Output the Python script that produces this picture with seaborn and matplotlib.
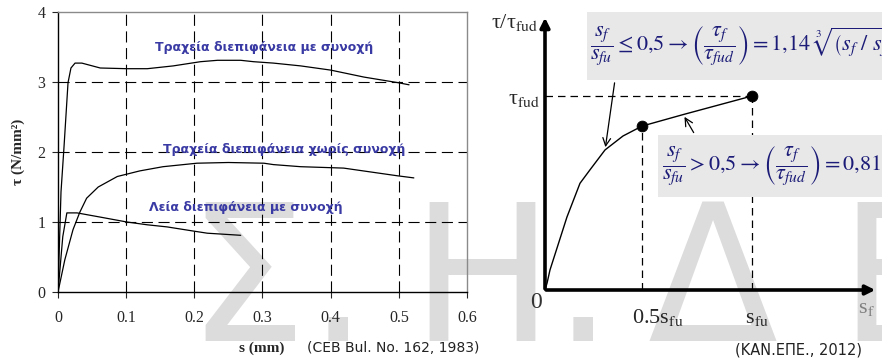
#diagrama tensao de aderencia - deslizamento (CEB) e modelo KAN.EPE
import numpy as np
import pandas as pd
import matplotlib
matplotlib.use('Agg')
import matplotlib.pyplot as plt
import seaborn as sns
from matplotlib.patches import Rectangle

# curvas CEB (s em mm, tau em N/mm2)
s_rugosa_coesao = [0, 0.0044, 0.0088, 0.0147, 0.019, 0.025, 0.035, 0.062, 0.101, 0.131, 0.169,
                   0.209, 0.234, 0.268, 0.287, 0.316, 0.356, 0.40, 0.449, 0.499, 0.515]
t_rugosa_coesao = [0, 1.43, 2.07, 2.99, 3.2, 3.27, 3.27, 3.2, 3.19, 3.19, 3.23,
                   3.29, 3.31, 3.31, 3.29, 3.27, 3.23, 3.17, 3.07, 2.99, 2.96]
s_rugosa_sem = [0, 0.01, 0.022, 0.032, 0.042, 0.059, 0.087, 0.12, 0.154, 0.204, 0.25,
                0.302, 0.316, 0.356, 0.419, 0.498, 0.522]
t_rugosa_sem = [0, 0.46, 0.89, 1.14, 1.34, 1.5, 1.65, 1.73, 1.79, 1.84, 1.85,
                1.84, 1.82, 1.79, 1.77, 1.66, 1.63]
s_lisa = [0, 0.007, 0.013, 0.028, 0.062, 0.101, 0.131, 0.16, 0.199, 0.219, 0.268]
t_lisa = [0, 0.79, 1.13, 1.13, 1.07, 1.0, 0.96, 0.93, 0.87, 0.84, 0.81]
rotulos = ['Τραχεία διεπιφάνεια με συνοχή',
           'Τραχεία διεπιφάνεια χωρίς συνοχή',
           'Λεία διεπιφάνεια με συνοχή']

# modelo KAN.EPE (s_f/s_fu, tau_f/tau_fud)
s_modelo = [0, 0.01, 0.024, 0.106, 0.169, 0.217, 0.29, 0.377, 0.469, 0.67, 1.0]
t_modelo = [0, 0.036, 0.103, 0.376, 0.55, 0.619, 0.722, 0.794, 0.845, 0.905, 1.0]
s_pontos = [0.469, 1.0]
t_pontos = [0.845, 1.0]

sns.set_theme(style='white')
plt.rcParams['font.family'] = ['Liberation Serif', 'DejaVu Serif']
plt.rcParams['mathtext.fontset'] = 'stix'

fig = plt.figure(figsize=(8.82, 3.62), dpi=100)
W, H = 882, 362

# marca d'agua ao fundo
cinza_marca = '#dcdcdc'
for letra, px in zip(['Σ', '.', 'Η', '.', 'Δ', 'Ε'], [186, 308, 410, 553, 648, 838]):
    fig.text(px / W, 1 - 341 / H, letra, fontsize=137, color=cinza_marca,
             family='DejaVu Sans', ha='left', va='baseline', zorder=-5)

# ---- painel esquerdo
ax1 = fig.add_axes([58 / W, 1 - 292 / H, (467 - 58) / W, (292 - 12) / H])
ax1.patch.set_alpha(0)
tracejado = (0, (10, 5))
for xv in [0.1, 0.2, 0.3, 0.4, 0.5]:
    ax1.axvline(xv, color='black', lw=0.8, ls=tracejado, zorder=1)
for yv in [1, 2, 3]:
    ax1.axhline(yv, color='black', lw=0.8, ls=tracejado, zorder=1)

for s, t in [(s_rugosa_coesao, t_rugosa_coesao), (s_rugosa_sem, t_rugosa_sem), (s_lisa, t_lisa)]:
    sns.lineplot(x=s, y=t, ax=ax1, color='black', lw=0.9, estimator=None, sort=False, zorder=3)

azul = '#3a3aa4'
for txt, (xt, yt) in zip(rotulos, [(0.303, 3.49), (0.332, 2.03), (0.275, 1.21)]):
    ax1.text(xt, yt, txt, color=azul, fontsize=9, fontweight='bold', family='DejaVu Sans',
             ha='center', va='center', zorder=4)

ax1.set_xlim(0, 0.6)
ax1.set_ylim(0, 4)
ax1.set_xticks([0, 0.1, 0.2, 0.3, 0.4, 0.5, 0.6])
ax1.set_xticklabels(['0', '0.1', '0.2', '0.3', '0.4', '0.5', '0.6'])
ax1.set_yticks([0, 1, 2, 3, 4])
ax1.tick_params(axis='x', direction='out', length=4, width=0.8, pad=9, labelsize=11.5, bottom=True)
ax1.tick_params(axis='y', direction='out', length=4, width=0.8, pad=5, labelsize=11.5, left=True)
for lado in ['left', 'bottom']:
    ax1.spines[lado].set_color('black')
    ax1.spines[lado].set_linewidth(1.0)
for lado in ['top', 'right']:
    ax1.spines[lado].set_color('#8a8a8a')
    ax1.spines[lado].set_linewidth(1.0)
ax1.set_ylabel('τ (N/mm²)', fontweight='bold', fontsize=11, labelpad=9)
ax1.set_xlabel('')

fig.text(262 / W, 1 - 348 / H, 's (mm)', fontweight='bold', fontsize=11, ha='center', va='center')
fig.text(307 / W, 1 - 348 / H, '(CEB Bul. No. 162, 1983)', family='DejaVu Sans', fontsize=10,
         ha='left', va='center', color='#222222')

# ---- painel direito
ax2 = fig.add_axes([545 / W, 1 - 290 / H, (W - 545) / W, 280 / H])
ax2.patch.set_alpha(0)
ax2.set_xlim(0, (W - 545) / 207)
ax2.set_ylim(0, 280 / 194)
ax2.axis('off')

trac2 = (0, (6, 4))
ax2.plot([0, s_pontos[1]], [t_pontos[1], t_pontos[1]], color='black', lw=0.9, ls=trac2, zorder=1)
ax2.plot([s_pontos[0], s_pontos[0]], [0, t_pontos[0]], color='black', lw=0.9, ls=trac2, zorder=1)
ax2.plot([s_pontos[1], s_pontos[1]], [0, t_pontos[1]], color='black', lw=0.9, ls=trac2, zorder=1)

sns.lineplot(x=s_modelo, y=t_modelo, ax=ax2, color='black', lw=1.0, estimator=None, sort=False, zorder=3)
sns.scatterplot(x=s_pontos, y=t_pontos, ax=ax2, color='black', s=60, edgecolor='black', zorder=4)

# caixas das equacoes
ax2.add_patch(Rectangle((0.203, 1.082), 1.6, 0.351, facecolor='#e8e8e8', edgecolor='none',
                        zorder=2, clip_on=False))
ax2.add_patch(Rectangle((0.546, 0.479), 1.2, 0.32, facecolor='#e8e8e8', edgecolor='none',
                        zorder=2, clip_on=False))
cor_eq = '#1c1c78'
ax2.text(0.217, 1.258,
         r'$\dfrac{s_f}{s_{fu}} \leq 0{,}5 \rightarrow \left(\dfrac{\tau_f}{\tau_{fud}}\right) = 1{,}14\ \sqrt[3]{\left(s_f\ /\ s_{fu}\ \right)}$',
         color=cor_eq, fontsize=16, ha='left', va='center', zorder=5, clip_on=False)
ax2.text(0.565, 0.639,
         r'$\dfrac{s_f}{s_{fu}} > 0{,}5 \rightarrow \left(\dfrac{\tau_f}{\tau_{fud}}\right) = 0{,}81+0{,}19\left(\dfrac{s_f}{s_{fu}}\right)$',
         color=cor_eq, fontsize=16, ha='left', va='center', zorder=5, clip_on=False)

# setas das equacoes
ax2.annotate('', xy=(0.29, 0.722), xytext=(0.338, 1.082),
             arrowprops=dict(arrowstyle='->', color='black', lw=0.9, mutation_scale=14), zorder=6)
ax2.annotate('', xy=(0.667, 0.905), xytext=(0.725, 0.799),
             arrowprops=dict(arrowstyle='->', color='black', lw=0.9, mutation_scale=14), zorder=6)

# eixos com setas
ax2.annotate('', xy=(0, 1.418), xytext=(0, -0.008),
             arrowprops=dict(arrowstyle='-|>', color='black', lw=2.6, mutation_scale=14), zorder=7)
ax2.annotate('', xy=(1.609, 0), xytext=(-0.008, 0),
             arrowprops=dict(arrowstyle='-|>', color='black', lw=2.6, mutation_scale=14), zorder=7)

ax2.text(-0.034, 1.38, 'τ/τ$_{\\mathrm{fud}}$', fontsize=16, ha='right', va='center', clip_on=False)
ax2.text(-0.024, 0.98, 'τ$_{\\mathrm{fud}}$', fontsize=16, ha='right', va='center', clip_on=False)
ax2.text(-0.072, -0.093, '0', fontsize=17, ha='left', va='baseline', color='#333333', clip_on=False)
ax2.text(0.42, -0.17, '0.5s$_{\\mathrm{fu}}$', fontsize=16, ha='left', va='baseline', clip_on=False)
ax2.text(0.966, -0.17, 's$_{\\mathrm{fu}}$', fontsize=16, ha='left', va='baseline', clip_on=False)
ax2.text(1.512, -0.119, 's$_{\\mathrm{f}}$', fontsize=16, ha='left', va='baseline', color='#808080',
         clip_on=False)

fig.text(735 / W, 1 - 350 / H, '(ΚΑΝ.ΕΠΕ., 2012)', family='DejaVu Sans', fontsize=10.5,
         ha='left', va='center', color='#222222')

fig.savefig('out.png', dpi=100)
